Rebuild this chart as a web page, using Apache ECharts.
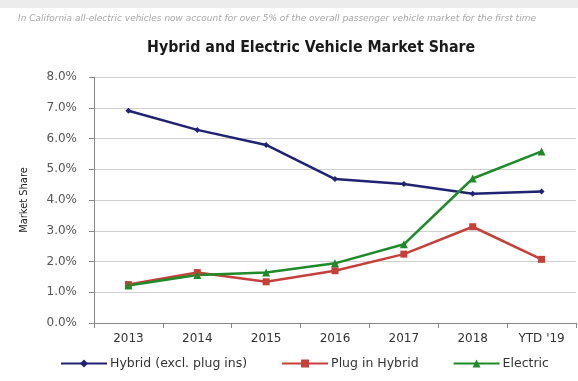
<!DOCTYPE html>
<html><head><meta charset="utf-8">
<script src="https://cdn.jsdelivr.net/npm/echarts@6/dist/echarts.min.js"></script>
<style>html,body{margin:0;padding:0;background:#fff}#c{width:578px;height:381px}</style>
</head><body><div id="c"></div>
<script>
const categories = ['2013','2014','2015','2016','2017','2018',"YTD '19"];
const hybrid = [6.9, 6.28, 5.79, 4.68, 4.52, 4.2, 4.28];
const plugIn = [1.25, 1.64, 1.34, 1.7, 2.24, 3.13, 2.07];
const electric = [1.22, 1.56, 1.64, 1.94, 2.56, 4.7, 5.58];
const yTicks = [0,1,2,3,4,5,6,7,8];
const subtitle = 'In California all-electric vehicles now account for over 5% of the overall passenger vehicle market for the first time';

const chart = echarts.init(document.getElementById('c'));
const font = '"DejaVu Sans", Verdana, sans-serif';
function mk(name, data, color, symbol, size){
  return {name, type:'line', data, symbol, symbolSize:size,
    lineStyle:{color, width:2.5}, itemStyle:{color}, z: 3};
}
chart.setOption({
  animation:false,
  graphic:[
    {type:'rect', shape:{x:0, y:0, width:578, height:8}, style:{fill:'#ececec'}, z:-1}
  ],
  title:[
    {text:subtitle, left:13, top:9, textStyle:{fontSize:9, fontStyle:'italic', fontWeight:'normal', color:'#a8a8a8', fontFamily:font}},
    {text:'Hybrid and Electric Vehicle Market Share', left:142, top:35, textStyle:{fontSize:15.8, fontWeight:'bold', color:'#1a1a1a', fontFamily:'"DejaVu Sans Condensed", "Liberation Sans Narrow", sans-serif'}}
  ],
  grid:{left:94, right:2, top:77, bottom:58},
  legend:{bottom:6, left:55, itemGap:34, itemWidth:46, itemHeight:10,
    textStyle:{fontSize:12.5, color:'#333', fontFamily:font, padding:[0,0,0,-2]},
    data:['Hybrid (excl. plug ins)','Plug in Hybrid','Electric']},
  xAxis:{type:'category', data:categories, boundaryGap:true,
    axisLine:{lineStyle:{color:'#888'}}, axisTick:{show:true, lineStyle:{color:'#888'}},
    axisLabel:{fontSize:12, color:'#333', margin:10, fontFamily:font}},
  yAxis:{type:'value', min:0, max:8, interval:1, name:'Market Share', nameLocation:'middle', nameGap:64,
    nameTextStyle:{fontSize:11, color:'#222', fontFamily:'"Liberation Sans Narrow", "DejaVu Sans Condensed", sans-serif'},
    axisLine:{show:true, lineStyle:{color:'#888'}}, axisTick:{show:true, lineStyle:{color:'#888'}},
    splitLine:{lineStyle:{color:'#cfcfcf'}},
    axisLabel:{fontSize:12, color:'#555', margin:17, fontFamily:font, formatter:v=>yTicks.includes(v)? v.toFixed(1)+'%':''}},
  series:[
    mk('Hybrid (excl. plug ins)', hybrid, '#202272', 'diamond', 6),
    mk('Plug in Hybrid', plugIn, '#c4403a', 'rect', 7),
    mk('Electric', electric, '#1f8a2a', 'triangle', 8)
  ]
});
</script></body></html>
